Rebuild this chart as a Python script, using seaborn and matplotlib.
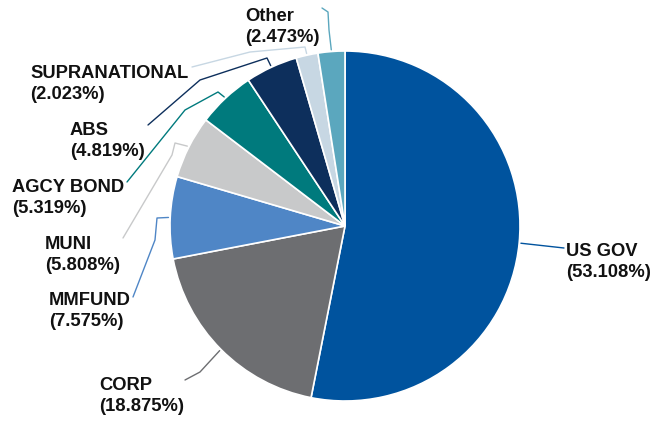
import numpy as np
import matplotlib
matplotlib.use("Agg")
import matplotlib.pyplot as plt
import seaborn as sns

categories = ["US GOV", "CORP", "MMFUND", "MUNI", "AGCY BOND", "ABS", "SUPRANATIONAL", "Other"]
values = [53.108, 18.875, 7.575, 5.808, 5.319, 4.819, 2.023, 2.473]
colors = ["#00539E", "#6D6E71", "#4F86C6", "#C8C9CA", "#007A7D", "#0D2F5C", "#C7D7E3", "#5BA7BE"]

sns.set_theme(style="white")
plt.rcParams['font.family'] = ['Liberation Sans', 'DejaVu Sans']

W, H = 653, 422
CX, CY, R = 345, 226, 175

fig = plt.figure(figsize=(W / 100, H / 100), dpi=100)
ax = fig.add_axes([0, 0, 1, 1])

def px(x, y):
    return (x - CX) / R, (CY - y) / R

wedges, _ = ax.pie(values, colors=colors, startangle=90, counterclock=False,
                   radius=1.0, wedgeprops=dict(edgecolor='white', linewidth=1.2))

ax.set_xlim(-CX / R, (W - CX) / R)
ax.set_ylim(-(H - CY) / R, CY / R)
ax.set_aspect('equal')
ax.axis('off')

# label layout (pixel positions of text left / middle, and leader line elbow/end)
label_pos = {
    "US GOV": (566, 262),
    "CORP": (99, 396),
    "MMFUND": (49, 311),
    "MUNI": (45, 255),
    "AGCY BOND": (12, 198),
    "ABS": (70, 141),
    "SUPRANATIONAL": (30, 84),
    "Other": (245, 27),
}
leader = {
    "US GOV": [(564, 248)],
    "CORP": [(200, 372), (185, 380)],
    "MMFUND": [(157, 218), (155, 240), (133, 297)],
    "MUNI": [(175, 143), (172, 155), (123, 238)],
    "AGCY BOND": [(218, 92), (185, 110), (127, 182)],
    "ABS": [(267, 58), (200, 80), (148, 125)],
    "SUPRANATIONAL": [(305, 47), (250, 52), (192, 67)],
    "Other": [(329, 30), (328, 12), (322, 8)],
}

for w, cat, val, col in zip(wedges, categories, values, colors):
    ang = np.deg2rad((w.theta1 + w.theta2) / 2)
    sx, sy = 1.01 * np.cos(ang), 1.01 * np.sin(ang)
    pts = [(sx, sy)] + [px(*p) for p in leader[cat]]
    xs, ys = zip(*pts)
    ax.plot(xs, ys, color=col, lw=1.0, solid_capstyle='round')
    tx, ty = px(*label_pos[cat])
    ax.text(tx, ty, f"{cat}\n({val:.3f}%)", ha='left', va='center',
            fontsize=13.2, fontweight='bold', color='#111111', linespacing=1.25)

fig.savefig("out.png", dpi=100)
